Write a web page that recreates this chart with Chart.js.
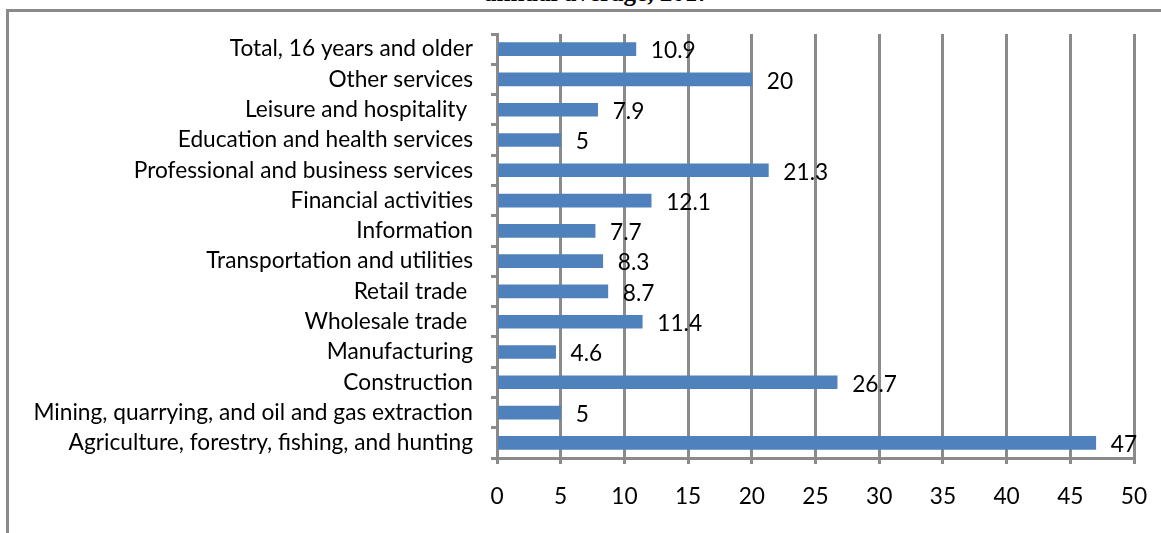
<!DOCTYPE html>
<html>
<head>
<meta charset="utf-8">
<script src="https://cdn.jsdelivr.net/npm/chart.js@4/dist/chart.umd.min.js"></script>
<style>
  html, body { margin: 0; padding: 0; background: #fff; overflow: hidden; }
  #frame { position: absolute; left: 6px; top: 9px; width: 1160px; height: 530px;
           border-top: 3px solid #8a8a8a; border-left: 3px solid #8a8a8a; }
  #title { position: absolute; left: 484px; top: -21px; white-space: nowrap;
           font: bold 25px "Liberation Serif", "DejaVu Serif", serif; color: #000; }
  #wrap { position: absolute; left: 0; top: 0; width: 1161px; height: 533px; }
</style>
</head>
<body>
<div id="title">annual average, 2017</div>
<div id="frame"></div>
<div id="wrap"><canvas id="chart"></canvas></div>
<script>
const industries = [
  "Total, 16 years and older",
  "Other services",
  "Leisure and hospitality ",
  "Education and health services",
  "Professional and business services",
  "Financial activities",
  "Information",
  "Transportation and utilities",
  "Retail trade ",
  "Wholesale trade ",
  "Manufacturing",
  "Construction",
  "Mining, quarrying, and oil and gas extraction",
  "Agriculture, forestry, fishing, and hunting"
];
const rates = [10.9, 20, 7.9, 5, 21.3, 12.1, 7.7, 8.3, 8.7, 11.4, 4.6, 26.7, 5, 47];
const xTicks = [0, 5, 10, 15, 20, 25, 30, 35, 40, 45, 50];

const gridGray = "#8a8a8a";
const fontFamily = "Lato, 'Open Sans', sans-serif";
const labelFont = { family: fontFamily, size: 22.7 };
// tall line height pushes the x tick labels down without adding side padding
const xTickFont = { family: fontFamily, size: 22.7, lineHeight: "60px" };

// value labels to the right of each bar
const valueLabels = {
  id: "valueLabels",
  afterDatasetsDraw(chart) {
    const ctx = chart.ctx;
    const meta = chart.getDatasetMeta(0);
    ctx.save();
    ctx.font = labelFont.size + "px " + labelFont.family;
    ctx.fillStyle = "#000";
    ctx.textAlign = "left";
    ctx.textBaseline = "middle";
    meta.data.forEach((bar, i) => {
      ctx.fillText(String(rates[i]), bar.x + 15, bar.y + 2);
    });
    ctx.restore();
  }
};

new Chart(document.getElementById("chart").getContext("2d"), {
  type: "bar",
  data: {
    labels: industries,
    datasets: [{
      data: rates,
      backgroundColor: "#4f81bd",
      barThickness: 13
    }]
  },
  options: {
    indexAxis: "y",
    responsive: true,
    maintainAspectRatio: false,
    animation: false,
    layout: { padding: { left: 0, right: 27, top: 34, bottom: 0 } },
    plugins: { legend: { display: false }, tooltip: { enabled: false } },
    scales: {
      x: {
        min: 0, max: 50,
        afterBuildTicks: (s) => { s.ticks = xTicks.map((v) => ({ value: v })); },
        afterFit: (s) => { s.height = 75; },
        ticks: { color: "#000", font: xTickFont, padding: 3, maxRotation: 0 },
        grid: { color: gridGray, lineWidth: 3, tickLength: 6, drawTicks: true },
        border: { color: gridGray, width: 3 }
      },
      y: {
        afterFit: (s) => { s.width = 497; },
        ticks: { color: "#000", font: labelFont, padding: 18, autoSkip: false },
        grid: { offset: true, drawOnChartArea: false, color: gridGray, lineWidth: 3, tickLength: 6 },
        border: { color: gridGray, width: 3 }
      }
    }
  },
  plugins: [valueLabels]
});
</script>
</body>
</html>
